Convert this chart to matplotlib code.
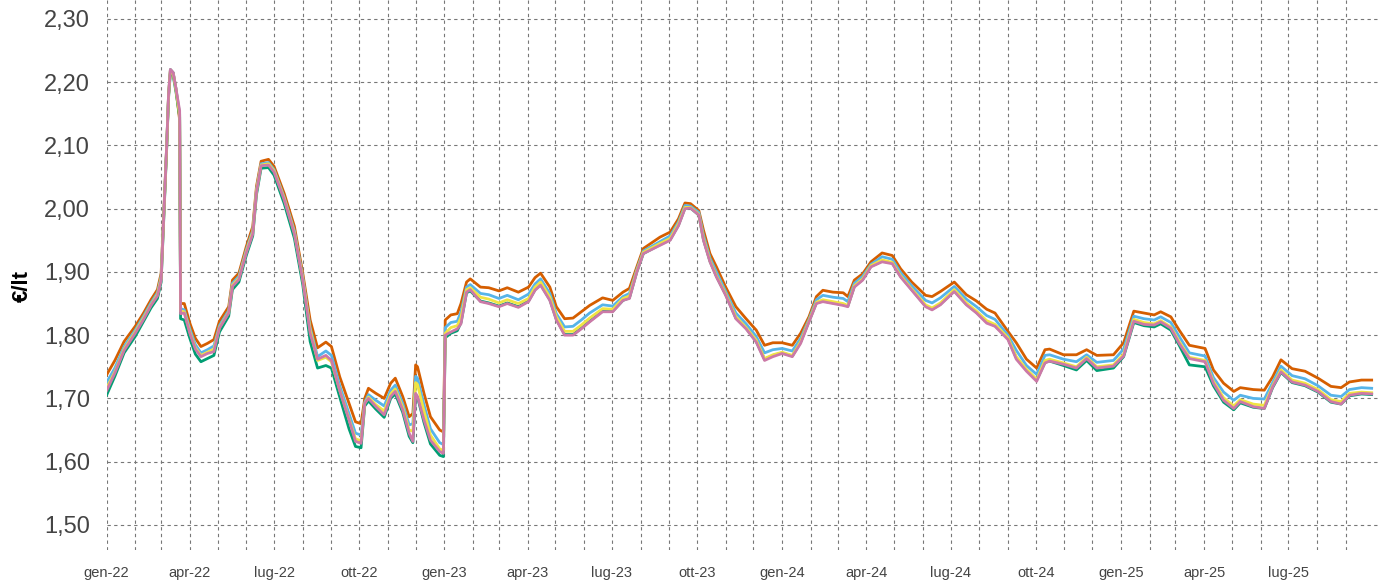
import numpy as np
import pandas as pd
import matplotlib
matplotlib.use("Agg")
import matplotlib.pyplot as plt
import matplotlib.dates as mdates
from matplotlib.ticker import FuncFormatter, MultipleLocator

# date di rilevazione
date = ["2022-01-01", "2022-01-10", "2022-01-20", "2022-02-01", "2022-02-10", "2022-02-18", "2022-02-25",
        "2022-03-01", "2022-03-04", "2022-03-07", "2022-03-09", "2022-03-11", "2022-03-14", "2022-03-17",
        "2022-03-21", "2022-03-22", "2022-03-26", "2022-04-01", "2022-04-07", "2022-04-13", "2022-04-20",
        "2022-04-27", "2022-05-03", "2022-05-13", "2022-05-17", "2022-05-24", "2022-06-01", "2022-06-08",
        "2022-06-12", "2022-06-17", "2022-06-25", "2022-07-01", "2022-07-12", "2022-07-23", "2022-08-01",
        "2022-08-09", "2022-08-17", "2022-08-26", "2022-09-01", "2022-09-10", "2022-09-20", "2022-09-27",
        "2022-10-03", "2022-10-07", "2022-10-11", "2022-10-19", "2022-10-28", "2022-11-04", "2022-11-09",
        "2022-11-17", "2022-11-24", "2022-11-28", "2022-12-01", "2022-12-03", "2022-12-10", "2022-12-17",
        "2022-12-27", "2022-12-31",
        "2023-01-02", "2023-01-08", "2023-01-15", "2023-01-19", "2023-01-25", "2023-01-29", "2023-02-09",
        "2023-02-18", "2023-03-01", "2023-03-10", "2023-03-22", "2023-04-02", "2023-04-09", "2023-04-15",
        "2023-04-25", "2023-05-02", "2023-05-11", "2023-05-20", "2023-05-29", "2023-06-07", "2023-06-21",
        "2023-07-02", "2023-07-13", "2023-07-20", "2023-07-28", "2023-08-04", "2023-08-22", "2023-09-02",
        "2023-09-11", "2023-09-18", "2023-09-24", "2023-10-03", "2023-10-08", "2023-10-15", "2023-10-22",
        "2023-11-01", "2023-11-12", "2023-11-23", "2023-12-04", "2023-12-13", "2023-12-22",
        "2024-01-01", "2024-01-12", "2024-01-21", "2024-01-30", "2024-02-07", "2024-02-14", "2024-02-25",
        "2024-03-07", "2024-03-12", "2024-03-19", "2024-03-28", "2024-04-06", "2024-04-18", "2024-04-29",
        "2024-05-08", "2024-05-20", "2024-06-04", "2024-06-11", "2024-06-20", "2024-07-05", "2024-07-18",
        "2024-07-29", "2024-08-09", "2024-08-18", "2024-09-01", "2024-09-10", "2024-09-21", "2024-10-02",
        "2024-10-11", "2024-10-16", "2024-10-31", "2024-11-14", "2024-11-25", "2024-12-06", "2024-12-24",
        "2025-01-04", "2025-01-15", "2025-01-26", "2025-02-06", "2025-02-13", "2025-02-24", "2025-03-05",
        "2025-03-16", "2025-04-02", "2025-04-11", "2025-04-22", "2025-05-03", "2025-05-10", "2025-05-24",
        "2025-06-05", "2025-06-14", "2025-06-23", "2025-07-05", "2025-07-19", "2025-08-02", "2025-08-16",
        "2025-08-27", "2025-09-05", "2025-09-18", "2025-09-29"]

arancio = [1.737, 1.760, 1.790, 1.814, 1.835, 1.856, 1.872,
           1.898, 1.998, 2.100, 2.180, 2.220, 2.215, 2.190,
           2.140, 1.850, 1.850, 1.819, 1.795, 1.782, 1.787,
           1.793, 1.822, 1.845, 1.887, 1.898, 1.940, 1.972,
           2.035, 2.075, 2.078, 2.067, 2.024, 1.972, 1.898,
           1.824, 1.780, 1.789, 1.782, 1.734, 1.692, 1.663,
           1.660, 1.700, 1.716, 1.708, 1.700, 1.724, 1.732,
           1.703, 1.671, 1.676, 1.753, 1.750, 1.708, 1.671,
           1.650, 1.647,
           1.824, 1.832, 1.834, 1.850, 1.884, 1.889, 1.876,
           1.875, 1.870, 1.875, 1.868, 1.876, 1.891, 1.898,
           1.876, 1.845, 1.826, 1.827, 1.837, 1.847, 1.859,
           1.855, 1.868, 1.874, 1.908, 1.937, 1.955, 1.963,
           1.984, 2.009, 2.008, 1.997, 1.966, 1.929, 1.908,
           1.876, 1.845, 1.826, 1.808, 1.784, 1.788,
           1.788, 1.784, 1.803, 1.829, 1.861, 1.871, 1.868,
           1.867, 1.861, 1.887, 1.897, 1.916, 1.930, 1.926,
           1.905, 1.884, 1.863, 1.861, 1.869, 1.884, 1.864,
           1.854, 1.841, 1.835, 1.806, 1.788, 1.762, 1.748,
           1.777, 1.778, 1.769, 1.769, 1.777, 1.768, 1.769,
           1.788, 1.838, 1.835, 1.832, 1.837, 1.829, 1.808,
           1.784, 1.779, 1.745, 1.724, 1.711, 1.717, 1.714,
           1.713, 1.734, 1.761, 1.747, 1.743, 1.732, 1.719,
           1.717, 1.726, 1.729, 1.729]

azzurro = [1.725, 1.748, 1.782, 1.808, 1.830, 1.851, 1.867,
           1.893, 1.995, 2.100, 2.180, 2.220, 2.215, 2.190,
           2.150, 1.842, 1.840, 1.810, 1.785, 1.772, 1.777,
           1.783, 1.815, 1.839, 1.882, 1.893, 1.935, 1.966,
           2.030, 2.071, 2.073, 2.062, 2.018, 1.965, 1.892,
           1.812, 1.766, 1.775, 1.768, 1.720, 1.676, 1.645,
           1.642, 1.694, 1.706, 1.697, 1.688, 1.713, 1.721,
           1.692, 1.658, 1.660, 1.735, 1.732, 1.690, 1.652,
           1.630, 1.627,
           1.812, 1.820, 1.822, 1.837, 1.876, 1.880, 1.866,
           1.864, 1.858, 1.863, 1.856, 1.865, 1.881, 1.889,
           1.866, 1.834, 1.813, 1.814, 1.824, 1.835, 1.848,
           1.846, 1.861, 1.866, 1.904, 1.933, 1.948, 1.957,
           1.979, 2.005, 2.004, 1.994, 1.958, 1.922, 1.900,
           1.869, 1.835, 1.818, 1.798, 1.772, 1.777,
           1.779, 1.775, 1.795, 1.825, 1.856, 1.863, 1.860,
           1.858, 1.853, 1.882, 1.893, 1.912, 1.924, 1.920,
           1.899, 1.878, 1.855, 1.851, 1.859, 1.877, 1.857,
           1.845, 1.831, 1.825, 1.800, 1.776, 1.752, 1.738,
           1.768, 1.769, 1.762, 1.758, 1.769, 1.757, 1.760,
           1.778, 1.830, 1.826, 1.824, 1.829, 1.820, 1.798,
           1.772, 1.767, 1.733, 1.710, 1.697, 1.705, 1.700,
           1.699, 1.725, 1.751, 1.736, 1.731, 1.720, 1.705,
           1.703, 1.714, 1.717, 1.716]

verde = [1.705, 1.735, 1.772, 1.798, 1.822, 1.843, 1.858,
         1.884, 1.990, 2.095, 2.175, 2.215, 2.210, 2.185,
         2.145, 1.826, 1.824, 1.795, 1.770, 1.758, 1.763,
         1.768, 1.805, 1.830, 1.872, 1.884, 1.926, 1.957,
         2.022, 2.064, 2.065, 2.053, 2.008, 1.953, 1.880,
         1.790, 1.748, 1.752, 1.748, 1.702, 1.652, 1.624,
         1.622, 1.688, 1.696, 1.683, 1.670, 1.700, 1.707,
         1.678, 1.640, 1.630, 1.705, 1.702, 1.662, 1.628,
         1.610, 1.608,
         1.796, 1.803, 1.807, 1.820, 1.867, 1.870, 1.854,
         1.851, 1.846, 1.851, 1.845, 1.854, 1.872, 1.880,
         1.856, 1.825, 1.801, 1.801, 1.811, 1.822, 1.838,
         1.838, 1.855, 1.859, 1.900, 1.929, 1.943, 1.951,
         1.974, 2.001, 2.001, 1.990, 1.951, 1.917, 1.893,
         1.864, 1.827, 1.811, 1.790, 1.762, 1.768,
         1.772, 1.767, 1.789, 1.822, 1.851, 1.854, 1.851,
         1.848, 1.846, 1.877, 1.888, 1.909, 1.917, 1.914,
         1.893, 1.872, 1.846, 1.841, 1.849, 1.870, 1.849,
         1.836, 1.821, 1.815, 1.795, 1.764, 1.745, 1.729,
         1.757, 1.759, 1.752, 1.745, 1.760, 1.744, 1.748,
         1.766, 1.820, 1.815, 1.813, 1.818, 1.808, 1.784,
         1.753, 1.750, 1.720, 1.694, 1.682, 1.693, 1.686,
         1.684, 1.717, 1.741, 1.725, 1.720, 1.710, 1.694,
         1.691, 1.704, 1.707, 1.706]

giallo = [1.716, 1.742, 1.778, 1.805, 1.827, 1.848, 1.864,
          1.890, 1.993, 2.098, 2.178, 2.218, 2.213, 2.188,
          2.148, 1.838, 1.837, 1.805, 1.780, 1.768, 1.773,
          1.778, 1.812, 1.836, 1.879, 1.890, 1.932, 1.963,
          2.028, 2.069, 2.071, 2.060, 2.016, 1.962, 1.889,
          1.808, 1.760, 1.765, 1.758, 1.713, 1.668, 1.636,
          1.633, 1.692, 1.702, 1.690, 1.680, 1.707, 1.715,
          1.686, 1.650, 1.648, 1.725, 1.722, 1.680, 1.642,
          1.620, 1.618,
          1.803, 1.812, 1.815, 1.828, 1.872, 1.875, 1.860,
          1.857, 1.851, 1.856, 1.850, 1.858, 1.876, 1.884,
          1.860, 1.829, 1.806, 1.806, 1.816, 1.827, 1.842,
          1.841, 1.858, 1.862, 1.902, 1.931, 1.945, 1.953,
          1.976, 2.002, 2.002, 1.991, 1.953, 1.918, 1.894,
          1.865, 1.829, 1.812, 1.792, 1.763, 1.769,
          1.773, 1.768, 1.790, 1.823, 1.852, 1.856, 1.853,
          1.850, 1.847, 1.878, 1.889, 1.910, 1.919, 1.915,
          1.894, 1.873, 1.848, 1.843, 1.851, 1.872, 1.851,
          1.838, 1.823, 1.817, 1.796, 1.766, 1.746, 1.730,
          1.760, 1.762, 1.756, 1.750, 1.765, 1.750, 1.753,
          1.770, 1.825, 1.820, 1.818, 1.823, 1.813, 1.790,
          1.765, 1.760, 1.727, 1.701, 1.688, 1.698, 1.691,
          1.689, 1.720, 1.745, 1.729, 1.724, 1.714, 1.698,
          1.695, 1.708, 1.710, 1.709]

rosa = [1.712, 1.740, 1.776, 1.803, 1.825, 1.847, 1.862,
        1.887, 1.992, 2.100, 2.180, 2.220, 2.215, 2.190,
        2.155, 1.834, 1.835, 1.803, 1.778, 1.766, 1.771,
        1.774, 1.811, 1.835, 1.877, 1.888, 1.930, 1.960,
        2.026, 2.068, 2.069, 2.058, 2.014, 1.960, 1.887,
        1.803, 1.762, 1.768, 1.760, 1.712, 1.666, 1.632,
        1.629, 1.692, 1.700, 1.687, 1.674, 1.703, 1.711,
        1.682, 1.645, 1.632, 1.708, 1.703, 1.666, 1.634,
        1.616, 1.613,
        1.800, 1.805, 1.810, 1.818, 1.868, 1.872, 1.853,
        1.850, 1.845, 1.850, 1.844, 1.853, 1.871, 1.879,
        1.855, 1.824, 1.800, 1.800, 1.810, 1.821, 1.837,
        1.837, 1.855, 1.858, 1.900, 1.929, 1.942, 1.950,
        1.973, 2.000, 2.001, 1.990, 1.950, 1.916, 1.892,
        1.863, 1.826, 1.810, 1.789, 1.760, 1.766,
        1.771, 1.766, 1.787, 1.821, 1.850, 1.853, 1.850,
        1.847, 1.845, 1.876, 1.887, 1.908, 1.916, 1.913,
        1.892, 1.871, 1.845, 1.840, 1.848, 1.869, 1.848,
        1.835, 1.819, 1.814, 1.793, 1.762, 1.743, 1.727,
        1.756, 1.759, 1.754, 1.748, 1.763, 1.748, 1.751,
        1.767, 1.822, 1.817, 1.816, 1.821, 1.811, 1.787,
        1.763, 1.758, 1.724, 1.697, 1.684, 1.695, 1.687,
        1.684, 1.718, 1.742, 1.726, 1.721, 1.711, 1.695,
        1.691, 1.705, 1.708, 1.707]

mesi_it = ["gen", "feb", "mar", "apr", "mag", "giu", "lug", "ago", "set", "ott", "nov", "dic"]

x = pd.to_datetime(date)
serie = [(arancio, "#D55E00"), (azzurro, "#56B4E9"), (verde, "#009E73"),
         (giallo, "#F0E442"), (rosa, "#CC79A7")]

plt.rcParams['font.family'] = ['Liberation Sans', 'DejaVu Sans']
fig = plt.figure(figsize=(13.8, 5.84), dpi=100)
ax = fig.add_axes([0.0772, 0.059, 0.9228, 0.941])

for vals, col in serie:
    ax.plot(x, vals, color=col, lw=2.0, solid_joinstyle='round')

ax.set_xlim(pd.Timestamp("2022-01-01"), pd.Timestamp("2025-10-08"))
ax.set_ylim(1.461, 2.330)

ax.yaxis.set_major_locator(MultipleLocator(0.1))
ax.yaxis.set_major_formatter(FuncFormatter(lambda v, p: f"{v:.2f}".replace(".", ",")))

quarters = pd.date_range("2022-01-01", "2025-07-01", freq="QS")
months = pd.date_range("2022-01-01", "2025-09-01", freq="MS")
ax.set_xticks(quarters)
ax.set_xticklabels([f"{mesi_it[d.month - 1]}-{d.strftime('%y')}" for d in quarters])
ax.set_xticks(months, minor=True)

ax.grid(True, which='both', axis='x', color='#777777', ls=(0, (3, 3)), lw=0.8)
ax.grid(True, which='major', axis='y', color='#777777', ls=(0, (3, 3)), lw=0.8)
ax.set_axisbelow(True)

for s in ax.spines.values():
    s.set_visible(False)
ax.tick_params(axis='y', length=0, pad=12, labelsize=17, labelcolor='#444444')
ax.tick_params(axis='x', which='both', length=0, pad=12, labelsize=10.5, labelcolor='#444444')

fig.text(0.016, 0.51, "€/lt", rotation=90, ha='center', va='center', fontsize=16, fontweight='bold')

fig.savefig("out.png", dpi=100)
